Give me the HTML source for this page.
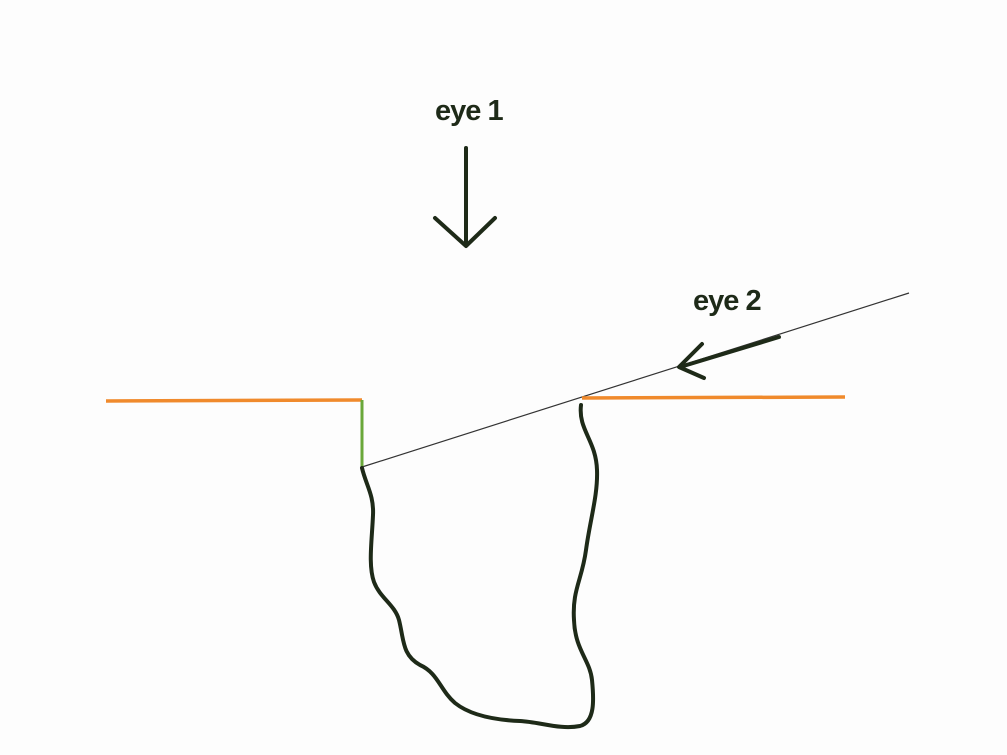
<!DOCTYPE html>
<html><head><meta charset="utf-8"><style>
html,body{margin:0;padding:0;background:#fdfdfd;}
svg{display:block;}
text{font-family:"Liberation Sans",sans-serif;fill:#1e2a18;font-weight:bold;letter-spacing:-1px;}
</style></head><body>
<svg width="1007" height="755" viewBox="0 0 1007 755">
<rect width="1007" height="755" fill="#fdfdfd"/>
<text x="435" y="120" font-size="29">eye 1</text>
<g stroke="#1e2a18" stroke-width="4" fill="none" stroke-linecap="round" stroke-linejoin="round">
<line x1="466" y1="148" x2="466" y2="245"/>
<polyline points="435,218 466,246 495,218"/>
</g>
<text x="693" y="310" font-size="29">eye 2</text>
<line x1="362" y1="467" x2="909" y2="293" stroke="#333" stroke-width="1.2"/>
<g stroke="#1e2a18" stroke-width="4" fill="none" stroke-linecap="round" stroke-linejoin="round">
<line x1="779" y1="337" x2="680" y2="367"/>
<polyline points="702,344 679,367 704,378"/>
</g>
<line x1="106" y1="401" x2="362" y2="400" stroke="#f08a2c" stroke-width="3.5"/>
<line x1="582" y1="398" x2="845" y2="397" stroke="#f08a2c" stroke-width="3.5"/>
<line x1="362" y1="400" x2="362" y2="467" stroke="#6aa83a" stroke-width="3"/>
<path d="M362,468 C366,485 374,495 373,515 C372,540 368,565 374,582 C380,598 395,605 399,620 C404,640 402,655 420,665 C438,673 440,690 455,703 C470,715 495,720 520,721 C540,722 560,730 580,726 C595,722 594,700 592,680 C590,660 575,650 574,620 C572,590 582,580 586,550 C590,520 598,495 597,470 C596,440 578,430 581,405" stroke="#1e2a18" stroke-width="4" fill="none" stroke-linecap="round"/>
</svg>
</body></html>
